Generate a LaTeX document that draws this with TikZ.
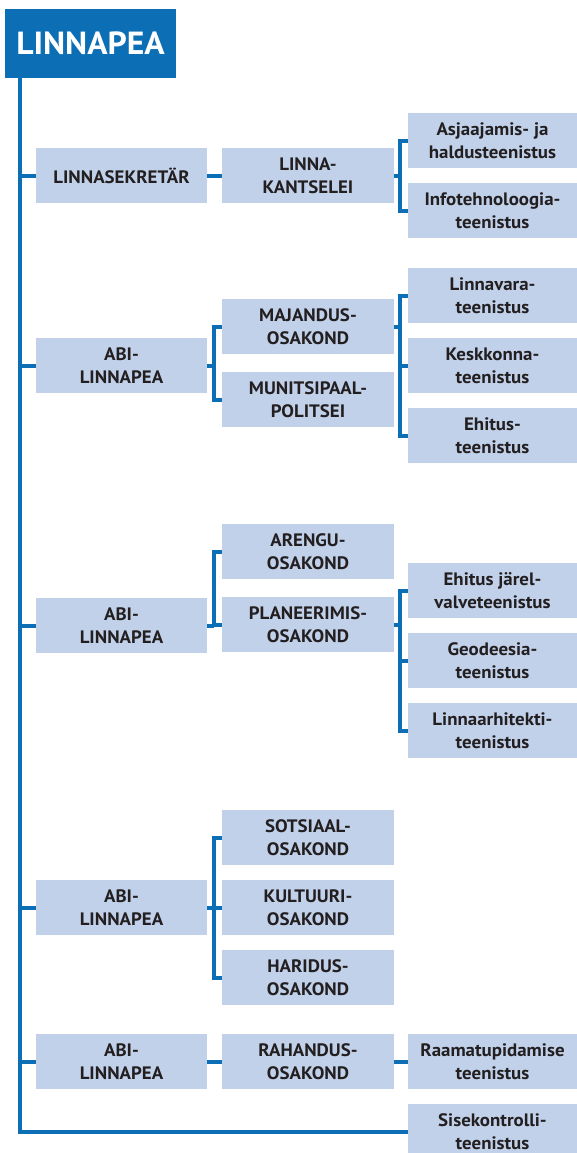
\documentclass[tikz,border=0pt]{standalone}
\usepackage{fontspec}
\setmainfont{PT Sans}[FakeStretch=1.05]
\definecolor{orgblue}{RGB}{12,110,180}
\definecolor{boxblue}{RGB}{193,209,234}
\definecolor{ink}{RGB}{35,31,32}
\tikzset{
  unit/.style={fill=boxblue, text=ink, inner sep=0pt, align=center,
    minimum height=41.25pt, font=\bfseries\fontsize{13.5}{17}\selectfont},
  lvlone/.style={unit, minimum width=128.25pt},
  lvltwo/.style={unit, minimum width=129pt},
  lvlthree/.style={unit, minimum width=126.75pt},
  link/.style={draw=orgblue, line width=3pt}
}

\begin{document}
\begin{tikzpicture}[x=0.75pt,y=-0.75pt]
			%%%%% START %%%%%
			\useasboundingbox (0,0) rectangle (577,1153);
			
			\node[fill=orgblue, text=white, inner sep=0pt, minimum width=128.25pt, minimum height=51.75pt,
			      font=\bfseries\fontsize{24}{28}\selectfont] (head) at (90.5,43.5) {LINNAPEA};
			\coordinate (trunk) at (20,78);
			
			% first row
			\node[lvlone] (sekr) at (121.5,175.5) {LINNASEKRETÄR};
			\node[lvltwo] (kants) at (308,175.5) {LINNA-\\KANTSELEI};
			\node[lvlthree] (asja) at (492.5,140.5) {Asjaajamis- ja\\haldusteenistus};
			\node[lvlthree] (info) at (492.5,210.5) {Infotehnoloogia-\\teenistus};
			
			% second row
			\node[lvlone] (abia) at (121.5,365.5) {ABI-\\LINNAPEA};
			\node[lvltwo] (maj) at (308,326.5) {MAJANDUS-\\OSAKOND};
			\node[lvltwo] (mun) at (308,399.5) {MUNITSIPAAL-\\POLITSEI};
			\node[lvlthree] (lvara) at (492.5,295.5) {Linnavara-\\teenistus};
			\node[lvlthree] (kesk) at (492.5,365.5) {Keskkonna-\\teenistus};
			\node[lvlthree] (ehit) at (492.5,435.5) {Ehitus-\\teenistus};
			
			% third row
			\node[lvlone] (abib) at (121.5,625.5) {ABI-\\LINNAPEA};
			\node[lvltwo] (areng) at (308,551.5) {ARENGU-\\OSAKOND};
			\node[lvltwo] (plan) at (308,624.5) {PLANEERIMIS-\\OSAKOND};
			\node[lvlthree] (jarel) at (492.5,590.5) {Ehitus järel-\\valveteenistus};
			\node[lvlthree] (geod) at (492.5,660.5) {Geodeesia-\\teenistus};
			\node[lvlthree] (arhit) at (492.5,730.5) {Linnaarhitekti-\\teenistus};
			
			% fourth row
			\node[lvlone] (abic) at (121.5,907.5) {ABI-\\LINNAPEA};
			\node[lvltwo] (sots) at (308,837.5) {SOTSIAAL-\\OSAKOND};
			\node[lvltwo] (kult) at (308,907.5) {KULTUURI-\\OSAKOND};
			\node[lvltwo] (har) at (308,977.5) {HARIDUS-\\OSAKOND};
			
			% fifth row
			\node[lvlone] (abid) at (121.5,1061.5) {ABI-\\LINNAPEA};
			\node[lvltwo] (rah) at (308,1061.5) {RAHANDUS-\\OSAKOND};
			\node[lvlthree] (raam) at (492.5,1061.5) {Raamatupidamise\\teenistus};
			\node[lvlthree] (sise) at (492.5,1131.5) {Sisekontrolli-\\teenistus};
			
			% trunk
			\draw[link] (trunk) |- (sise.west);
			\draw[link] (trunk |- sekr.west) -- (sekr.west);
			\draw[link] (trunk |- abia.west) -- (abia.west);
			\draw[link] (trunk |- abib.west) -- (abib.west);
			\draw[link] (trunk |- abic.west) -- (abic.west);
			\draw[link] (trunk |- abid.west) -- (abid.west);
			
			% brackets
			\draw[link] (sekr) -- (kants);
			\draw[link] (kants.east) -- ++(8,0);
			\draw[link] (asja.west) -- ++(-8,0) |- (info.west);
			
			\draw[link] (abia.east) -- ++(7,0);
			\draw[link] (maj.west) -- ++(-8,0) |- (mun.west);
			\draw[link] (maj.east) -- ++(6,0);
			\draw[link] (lvara.west) -- ++(-8,0) |- (ehit.west);
			\draw[link] (kesk.west) -- ++(-8,0);
			
			\draw[link] (abib.east) -- ++(7,0);
			\draw[link] (areng.west) -- ++(-8,0) |- (plan.west);
			\draw[link] (plan.east) -- ++(6,0);
			\draw[link] (jarel.west) -- ++(-8,0) |- (arhit.west);
			\draw[link] (geod.west) -- ++(-8,0);
			
			\draw[link] (abic.east) -- ++(7,0);
			\draw[link] (sots.west) -- ++(-8,0) |- (har.west);
			\draw[link] (kult.west) -- ++(-8,0);
			
			\draw[link] (abid) -- (rah);
			\draw[link] (rah) -- (raam);
			%%%%% END %%%%%
\end{tikzpicture}
\end{document}
